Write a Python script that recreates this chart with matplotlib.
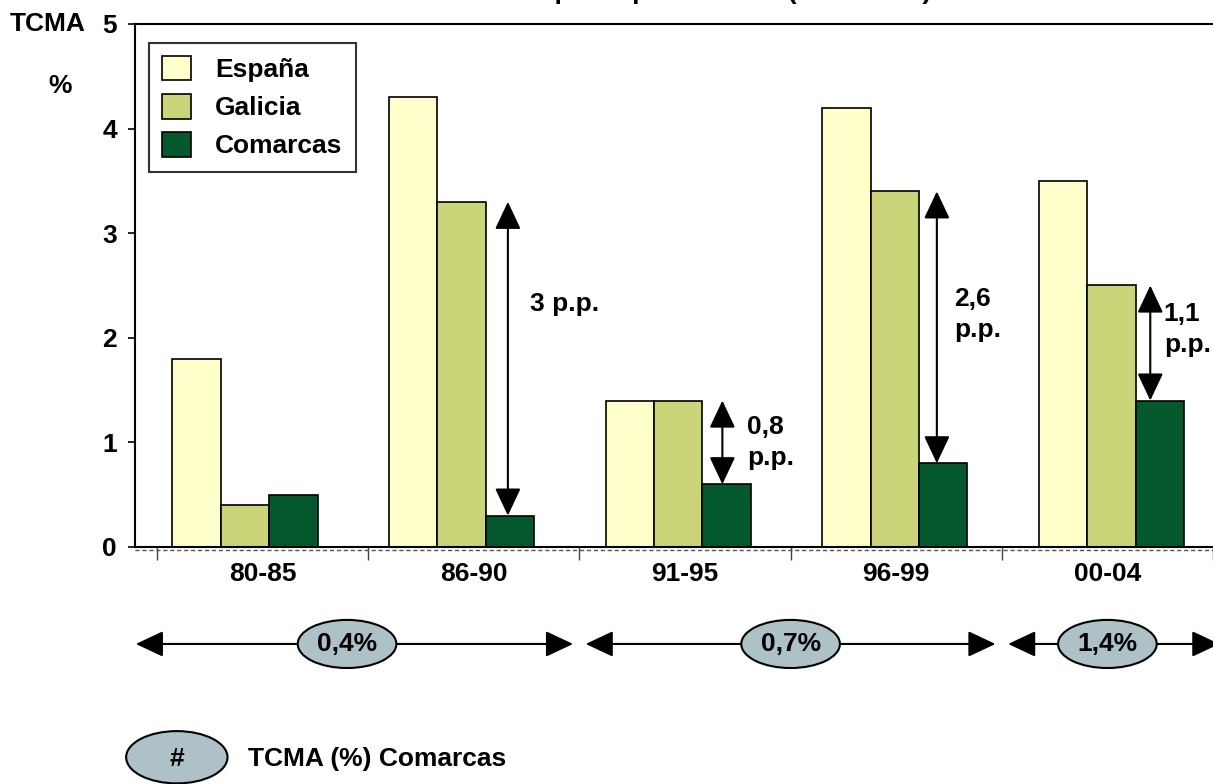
import numpy as np
import matplotlib
matplotlib.use("Agg")
import matplotlib.pyplot as plt
from matplotlib.patches import Ellipse

plt.rcParams['font.family'] = ['Liberation Sans', 'DejaVu Sans']
plt.rcParams['font.weight'] = 'bold'

# ----------------------------
# Data
# ----------------------------
periods = ['80-85', '86-90', '91-95', '96-99', '00-04']
espana = [1.8, 4.3, 1.4, 4.2, 3.5]
galicia = [0.4, 3.3, 1.4, 3.4, 2.5]
comarcas = [0.5, 0.3, 0.6, 0.8, 1.4]

# gap Galicia - Comarcas (p.p.), shown for these periods
gap_idx = [1, 2, 3, 4]
gap_labels = ['3 p.p.', '0,8\np.p.', '2,6\np.p.', '1,1\np.p.']

# TCMA of Comarcas over longer spans (first, last period index)
spans = [(0, 1), (2, 3), (4, 4)]
span_values = ['0,4%', '0,7%', '1,4%']

c_esp = '#FFFFCC'
c_gal = '#CCD47A'
c_com = '#03592D'
c_ell = '#AEC1C6'
FS = 19

fig = plt.figure(figsize=(12.13, 7.84), dpi=100)
ax = fig.add_axes([0.1113, 0.3023, 0.8887, 0.6671])

x = np.arange(len(periods))
centers = -0.083 + 1.0255 * x
w = 0.229

ax.bar(centers - w, espana, w, color=c_esp, edgecolor='black', lw=1.2, label='España')
ax.bar(centers, galicia, w, color=c_gal, edgecolor='black', lw=1.2, label='Galicia')
ax.bar(centers + w, comarcas, w, color=c_com, edgecolor='black', lw=1.2, label='Comarcas')

ax.set_xlim(-0.604, 4.487)
ax.set_ylim(0, 5)

# axes styling
ax.spines['right'].set_visible(False)
for s in ['left', 'top', 'bottom']:
    ax.spines[s].set_linewidth(1.5)
ax.set_yticks(range(6))
ax.tick_params(axis='y', length=5, width=1.2, labelsize=FS, pad=8)
ax.set_xticks(x)
ax.set_xticklabels(periods)
ax.set_xticks(np.arange(-0.5, 4.6, 1.0), minor=True)
ax.tick_params(axis='x', which='major', length=0, labelsize=FS, pad=11)
ax.tick_params(axis='x', which='minor', length=9.5, width=1, color='#444444')
ax.axhline(-0.025, color='#555555', lw=1, ls=(0, (3, 2)), clip_on=False)

fig.text(0.008, 0.969, 'TCMA', fontsize=FS, fontweight='bold', va='center')
fig.text(0.0495, 0.890, '%', fontsize=FS, fontweight='bold', va='center', ha='center')

leg = ax.legend(loc='upper left', bbox_to_anchor=(0.013, 0.964), fontsize=FS,
                frameon=True, fancybox=False, handlelength=1.1, handleheight=1.05,
                handletextpad=0.9, labelspacing=0.45, borderpad=0.5, borderaxespad=0)
leg.get_frame().set_edgecolor('black')
leg.get_frame().set_linewidth(1.5)
for t in leg.get_texts():
    t.set_fontweight('bold')

# gap arrows between Galicia and Comarcas
arrow_dx = [-0.01, -0.02, -0.03, -0.045]
text_dy = [0.52, 0.0, 0.12, 0.13]
text_dx = [0.105, 0.118, 0.08, 0.064]
arrow_style = '<|-|>,head_length=0.85,head_width=0.4'
for k, i in enumerate(gap_idx):
    xa = centers[i] + w + arrow_dx[k]
    ax.annotate('', xy=(xa, comarcas[i]), xytext=(xa, galicia[i]),
                arrowprops=dict(arrowstyle=arrow_style, color='black', lw=1.5,
                                mutation_scale=20, shrinkA=0, shrinkB=0))
    ym = (galicia[i] + comarcas[i]) / 2 + text_dy[k]
    ax.text(xa + text_dx[k], ym, gap_labels[k], fontsize=FS, fontweight='bold',
            va='center', ha='left', linespacing=1.35)

# timeline arrows with TCMA ellipses below the axis
yl = -0.927
ell_w, ell_h = 0.467, 0.46
for k, (a, b) in enumerate(spans):
    x0 = a - 0.5 + 0.03 if a > 0 else -0.6
    x1 = b + 0.5 - 0.03 if b < len(periods) - 1 else b + 0.53
    ax.annotate('', xy=(x1, yl), xytext=(x0, yl), annotation_clip=False,
                arrowprops=dict(arrowstyle=arrow_style, color='black', lw=1.5,
                                mutation_scale=20, shrinkA=0, shrinkB=0))
    xc = (a + b) / 2 - (0.1 if a == 0 else 0)
    ax.add_patch(Ellipse((xc, yl), ell_w, ell_h, facecolor=c_ell, edgecolor='black',
                         lw=1.5, clip_on=False, zorder=5))
    ax.text(xc, yl, span_values[k], fontsize=FS, fontweight='bold', ha='center',
            va='center', zorder=6, clip_on=False)

# key for the ellipses
ax.add_patch(Ellipse((-0.406, -2.01), 0.48, 0.5, facecolor=c_ell, edgecolor='black',
                     lw=1.5, clip_on=False, zorder=5))
ax.text(-0.406, -2.03, '#', fontsize=FS, fontweight='bold', ha='center', va='center',
        zorder=6, clip_on=False)
ax.text(-0.071, -2.03, 'TCMA (%) Comarcas', fontsize=FS, fontweight='bold',
        ha='left', va='center', clip_on=False)

# title (mostly outside the top edge, as in the original)
fig.text(0.768, 1.0015, 'Crecimiento del PIB per cápita relativo (1980-2004)',
         fontsize=FS, fontweight='bold', ha='right', va='baseline')

fig.savefig('out.png', dpi=100)
